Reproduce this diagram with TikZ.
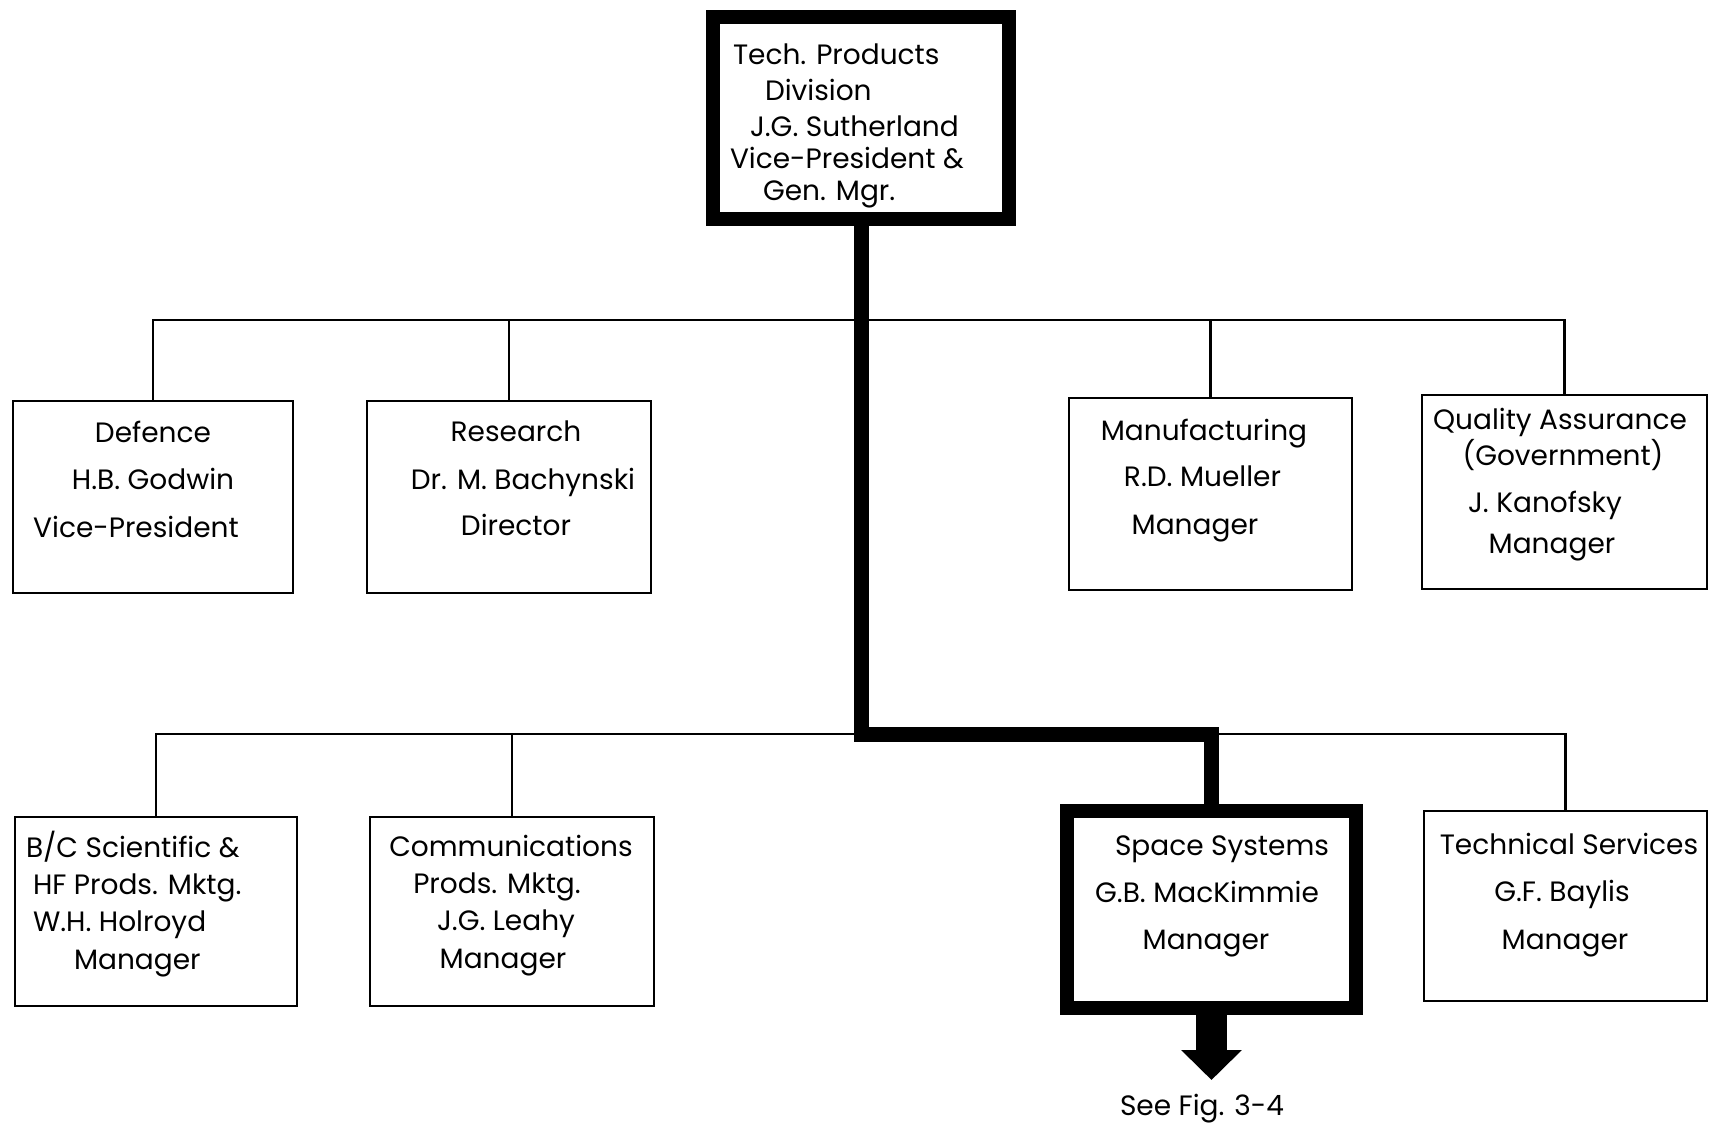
\documentclass[tikz,border=0pt]{standalone}
\usepackage{fontspec}
\setmainfont{Poppins}
\usetikzlibrary{arrows.meta}
\begin{document}
\begin{tikzpicture}[x=0.5pt,y=-0.5pt,
  every node/.style={inner sep=0pt, outer sep=0pt},
  unitbox/.style 2 args={draw, line width=1.2pt, minimum width=#1, minimum height=#2},
  headbox/.style 2 args={draw, line width=7pt, minimum width=#1, minimum height=#2},
  thinline/.style={line width=1.2pt},
  mainline/.style={line width=7.5pt, line join=miter},
  lbl/.style={anchor=base, font=\fontsize{14}{17}\selectfont},
  lblw/.style={anchor=base west, font=\fontsize{14}{17}\selectfont}]

% page area
\path[fill=white] (0,0) rectangle (1710,1124);
\useasboundingbox (0,0) rectangle (1710,1124);

% boxes
\node[headbox={147.75pt}{100.75pt}] (top) at (861,118) {};
\node[unitbox={140pt}{96pt}]     (def) at (153,497) {};
\node[unitbox={141.75pt}{96pt}]  (res) at (509,497) {};
\node[unitbox={141.5pt}{96pt}]   (man) at (1210.5,494) {};
\node[unitbox={142.5pt}{97pt}]   (qa)  at (1564.5,492) {};
\node[unitbox={141pt}{94.5pt}]   (bc)  at (156,911.5) {};
\node[unitbox={142pt}{94.5pt}]   (com) at (512,911.5) {};
\node[headbox={144.5pt}{98.5pt}] (sp)  at (1211.5,909.5) {};
\node[unitbox={141.5pt}{95pt}]   (ts)  at (1565.5,906) {};

% box texts
\node[lblw] (top1) at (733,64)  {Tech. Products};
\node[lblw] (top2) at (765,100) {Division};
\node[lblw] (top3) at (750,136) {J.G. Sutherland};
\node[lblw] (top4) at (730,168) {Vice-President \&};
\node[lblw] (top5) at (763,200) {Gen. Mgr.};

\node[lbl] (def1) at (153,442) {Defence};
\node[lbl] (def2) at (153,489) {H.B. Godwin};
\node[lbl] (def3) at (136,537) {Vice-President};

\node[lbl] (res1) at (516,441) {Research};
\node[lbl] (res2) at (523,489) {Dr. M. Bachynski};
\node[lbl] (res3) at (516,535) {Director};

\node[lbl] (man1) at (1204,440)   {Manufacturing};
\node[lbl] (man2) at (1202.5,486) {R.D. Mueller};
\node[lbl] (man3) at (1195,534)   {Manager};

\node[lbl] (qa1) at (1560,429) {Quality Assurance};
\node[lbl] (qa2) at (1563,465) {(Government)};
\node[lbl] (qa3) at (1545,512) {J. Kanofsky};
\node[lbl] (qa4) at (1552,553) {Manager};

\node[lblw] (bc1) at (26,857) {B/C Scientific \&};
\node[lblw] (bc2) at (33,894) {HF Prods. Mktg.};
\node[lblw] (bc3) at (33,931) {W.H. Holroyd};
\node[lblw] (bc4) at (74,969) {Manager};

\node[lbl] (com1) at (511,856) {Communications};
\node[lbl] (com2) at (497,893) {Prods. Mktg.};
\node[lbl] (com3) at (506,930) {J.G. Leahy};
\node[lbl] (com4) at (503,968) {Manager};

\node[lbl] (sp1) at (1222,855) {Space Systems};
\node[lbl] (sp2) at (1207,902) {G.B. MacKimmie};
\node[lbl] (sp3) at (1206,949) {Manager};

\node[lbl] (ts1) at (1569,854) {Technical Services};
\node[lbl] (ts2) at (1562,901) {G.F. Baylis};
\node[lbl] (ts3) at (1565,949) {Manager};

\node[lbl] (see) at (1202,1115) {See Fig. 3-4};

% bus lines
\coordinate (bus1) at (0,320);
\coordinate (bus2) at (0,734);

\draw[thinline] (def.north) -- (def.north |- bus1) -- (qa.north |- bus1) -- (qa.north);
\draw[thinline] (res.north) -- (res.north |- bus1);
\draw[thinline] (man.north) -- (man.north |- bus1);

\draw[thinline] (bc.north) -- (bc.north |- bus2) -- (ts.north |- bus2) -- (ts.north);
\draw[thinline] (com.north) -- (com.north |- bus2);

% main line of authority
\draw[mainline] (top.south) -- (top.south |- bus2) -- (sp.north |- bus2) -- (sp.north);
\draw[line width=15.5pt, -{Triangle[length=15pt, width=29.5pt]}] (sp.south) -- ++(0,72);
\end{tikzpicture}
\end{document}
